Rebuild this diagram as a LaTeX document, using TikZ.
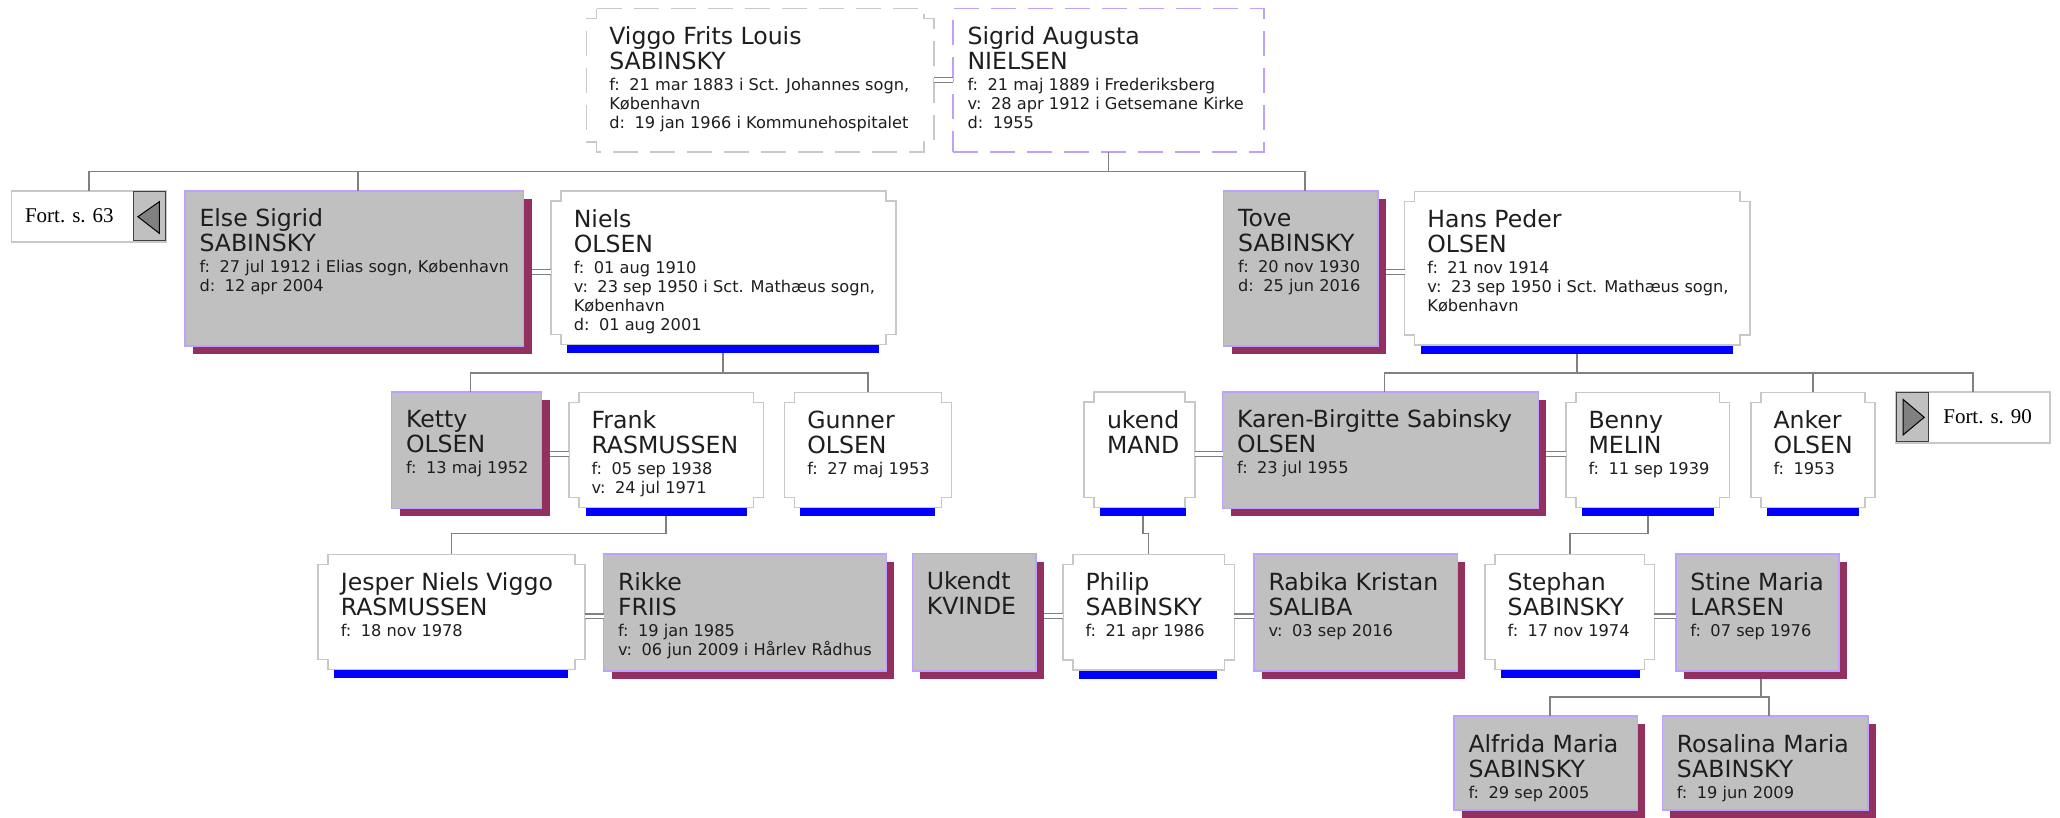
\documentclass[tikz,border=0pt]{standalone}
\usepackage{fontspec}
\newfontfamily\nmfam{DejaVu Sans}
\newfontfamily\serfam{Liberation Serif}
\usetikzlibrary{calc}
\definecolor{boxgray}{RGB}{192,192,192}
\definecolor{lav}{RGB}{190,160,255}
\definecolor{shadowc}{RGB}{146,48,96}
\definecolor{barblue}{RGB}{0,0,255}
\definecolor{linegray}{RGB}{128,128,128}
\definecolor{bordgray}{RGB}{200,200,200}
\definecolor{txtc}{RGB}{30,30,30}
\newcommand\nmf{\nmfam\fontsize{23.6pt}{24pt}\selectfont}
\newcommand\dtf{\nmfam\fontsize{16.2pt}{19pt}\selectfont}
\newcommand\nmline[1]{\hbox{\nmf #1}}
\newcommand\dtline[1]{\hbox{\dtf #1}\baselineskip=19.2pt}
\newcommand\names[2]{\nmline{#1}\nmline{#2}\baselineskip=21pt}
\newcommand\gp{\hspace{9.5pt}}
\newcommand\ptxt[1]{\vtop{\lineskiplimit=-\maxdimen\lineskip=0pt\baselineskip=25pt #1}}
\newcommand\notchdraw[5]{\draw[#1] ({#2+10},#3) -- ({#4-10},#3) -- ({#4-10},{#3+10}) -- (#4,{#3+10}) -- (#4,{#5-10}) -- ({#4-10},{#5-10}) -- ({#4-10},#5) -- ({#2+10},#5) -- ({#2+10},{#5-10}) -- (#2,{#5-10}) -- (#2,{#3+10}) -- ({#2+10},{#3+10}) -- cycle;}
% white notched box: name x1 y1 x2 y2 barx1 barx2 content
\newcommand\wbox[8]{%
  \node[anchorbox, minimum width={#4-#2}, minimum height={#5-#3}] (#1) at ({(#2+#4)/2},{(#3+#5)/2}) {};
  \notchdraw{wbord}{#2}{#3}{#4}{#5}%
  \node[barnode, minimum width={#7-#6}] (#1bar) at ({(#6+#7)/2},{#5+5}) {};
  \node[txt] (#1-t) at ({#2+22.8},{#3+36}) {\ptxt{#8}};
}
% grey box with shadow: name x1 y1 x2 y2 content
\newcommand\gbox[6]{%
  \fill[shadowc] ({#2+8},{#3+8}) rectangle ({#4+8},{#5+8});
  \node[graybox, minimum width={#4-#2}, minimum height={#5-#3}] (#1) at ({(#2+#4)/2},{(#3+#5)/2}) {};
  \node[txt] (#1-t) at ({#2+14.5},{#3+36}) {\ptxt{#6}};
}
\begin{document}
\begin{tikzpicture}[x=1pt,y=-1pt,
  txt/.style={anchor=base west, inner sep=0, outer sep=0, text=txtc},
  anchorbox/.style={inner sep=0, outer sep=0},
  graybox/.style={fill=boxgray, draw=lav, line width=1.6pt, inner sep=0, outer sep=0},
  wbord/.style={draw=bordgray, fill=white, line width=1.6pt},
  barnode/.style={fill=barblue, inner sep=0, outer sep=0, minimum height=8pt},
  conn/.style={draw=linegray, line width=1.8pt},
  dbl/.style={draw=linegray, line width=1.2pt, double=white, double distance=3.6pt},
  fortbox/.style={draw=bordgray, fill=white, line width=1.6pt, inner sep=0, outer sep=0},
  fortbtn/.style={draw=black!75, fill=boxgray, line width=1.4pt, inner sep=0, outer sep=0},
  forttri/.style={fill=linegray, draw=black, line width=1pt, line join=miter},
  forttxt/.style={anchor=base west, inner sep=0, outer sep=0, text=black, font=\serfam\fontsize{21pt}{21pt}\selectfont},
  dashbord/.style={line width=1.6pt, dash pattern=on 25pt off 12pt}]
\useasboundingbox (0,0) rectangle (2060,817);
\fill[white] (0,0) rectangle (2060,817);

% ---------- generation 0
\node[anchorbox, minimum width={934-586.5}, minimum height={152-8.5}] (viggo) at ({(586.5+934)/2},{(8.5+152)/2}) {};
\notchdraw{draw=bordgray, fill=white, dashbord}{586.5}{8.5}{934}{152}
\node[txt] (viggo-t) at (609.3,44.5) {\ptxt{\names{Viggo Frits Louis}{SABINSKY}\dtline{f:\gp 21 mar 1883 i Sct. Johannes sogn,}\dtline{København}\dtline{d:\gp 19 jan 1966 i Kommunehospitalet}}};
\node[draw=lav, fill=white, dashbord, inner sep=0, outer sep=0, minimum width={1264-953}, minimum height={152-8.5}] (sigrid) at ({(953+1264)/2},{(8.5+152)/2}) {};
\node[txt] (sigrid-t) at (967.5,44.5) {\ptxt{\names{Sigrid Augusta}{NIELSEN}\dtline{f:\gp 21 maj 1889 i Frederiksberg}\dtline{v:\gp 28 apr 1912 i Getsemane Kirke}\dtline{d:\gp 1955}}};

% ---------- generation 1
\node[fortbox, minimum width=155, minimum height=51] (fort63) at (88.9,216.2) {};
\node[fortbtn, minimum width=32, minimum height=49] (fort63b) at (149.65,216.2) {};
\filldraw[forttri] (137.9,216.7) -- (159.3,201.7) -- (159.3,233.3) -- cycle;
\node[forttxt] (fort63-t) at (25,222.7) {Fort. s. 63};

\gbox{else}{185}{190.7}{523.6}{345.7}{\names{Else Sigrid}{SABINSKY}\dtline{f:\gp 27 jul 1912 i Elias sogn, København}\dtline{d:\gp 12 apr 2004}}
\wbox{niels}{551}{191}{895.7}{344.3}{566.7}{879}{\names{Niels}{OLSEN}\dtline{f:\gp 01 aug 1910}\dtline{v:\gp 23 sep 1950 i Sct. Mathæus sogn,}\dtline{København}\dtline{d:\gp 01 aug 2001}}
\gbox{tove}{1223.6}{190.7}{1377.9}{345.7}{\names{Tove}{SABINSKY}\dtline{f:\gp 20 nov 1930}\dtline{d:\gp 25 jun 2016}}
\wbox{hans}{1404.6}{191.5}{1750}{345}{1420.7}{1733.2}{\names{Hans Peder}{OLSEN}\dtline{f:\gp 21 nov 1914}\dtline{v:\gp 23 sep 1950 i Sct. Mathæus sogn,}\dtline{København}}

% ---------- generation 2
\gbox{ketty}{391.5}{391.7}{541.5}{508.3}{\names{Ketty}{OLSEN}\dtline{f:\gp 13 maj 1952}}
\wbox{frank}{568.7}{392.3}{763.5}{507.3}{585.5}{746.6}{\names{Frank}{RASMUSSEN}\dtline{f:\gp 05 sep 1938}\dtline{v:\gp 24 jul 1971}}
\wbox{gunner}{784.5}{392.3}{951.4}{507.3}{800.2}{934.9}{\names{Gunner}{OLSEN}\dtline{f:\gp 27 maj 1953}}
\wbox{ukend}{1084.2}{392}{1195.2}{507.3}{1099.5}{1186.3}{\names{ukend}{MAND}}
\gbox{karen}{1222.6}{391.7}{1538.3}{508.3}{\names{Karen-Birgitte Sabinsky}{OLSEN}\dtline{f:\gp 23 jul 1955}}
\wbox{benny}{1565.7}{392.3}{1729.6}{507.3}{1581.7}{1713.7}{\names{Benny}{MELIN}\dtline{f:\gp 11 sep 1939}}
\wbox{anker}{1750.7}{392.3}{1875}{507.3}{1766.6}{1859.1}{\names{Anker}{OLSEN}\dtline{f:\gp 1953}}
\node[fortbox, minimum width=154.5, minimum height=51] (fort90) at (1972.75,417.2) {};
\node[fortbtn, minimum width=32, minimum height=49] (fort90b) at (1912.65,417.2) {};
\filldraw[forttri] (1924.2,417.3) -- (1903,399.3) -- (1903,435) -- cycle;
\node[forttxt] (fort90-t) at (1943.3,423.3) {Fort. s. 90};

% ---------- generation 3
\wbox{jesper}{318}{554.3}{585.1}{669.3}{334.4}{567.9}{\names{Jesper Niels Viggo}{RASMUSSEN}\dtline{f:\gp 18 nov 1978}}
\gbox{rikke}{603.5}{554}{886.3}{670.7}{\names{Rikke}{FRIIS}\dtline{f:\gp 19 jan 1985}\dtline{v:\gp 06 jun 2009 i Hårlev Rådhus}}
\gbox{ukendt}{912.3}{553.5}{1035.7}{670.7}{\names{Ukendt}{KVINDE}}
\wbox{philip}{1062.7}{554.3}{1234.3}{670}{1079}{1217.3}{\names{Philip}{SABINSKY}\dtline{f:\gp 21 apr 1986}}
\gbox{rabika}{1254}{554}{1457.3}{670.7}{\names{Rabika Kristan}{SALIBA}\dtline{v:\gp 03 sep 2016}}
\wbox{stephan}{1484.8}{554.3}{1654.4}{669.3}{1501.3}{1639.7}{\names{Stephan}{SABINSKY}\dtline{f:\gp 17 nov 1974}}
\gbox{stine}{1675.9}{554}{1838.8}{670.7}{\names{Stine Maria}{LARSEN}\dtline{f:\gp 07 sep 1976}}

% ---------- generation 4
\gbox{alfrida}{1454}{716}{1637.3}{810}{\names{Alfrida Maria}{SABINSKY}\dtline{f:\gp 29 sep 2005}}
\gbox{rosalina}{1662.3}{716}{1867.7}{810}{\names{Rosalina Maria}{SABINSKY}\dtline{f:\gp 19 jun 2009}}

% ---------- marriage lines
\draw[dbl] (viggo.east) -- (viggo.east -| sigrid.west);
\coordinate (m1) at ([shift={(8pt,-4pt)}]else.east);
\draw[dbl] (m1) -- (m1 -| niels.west);
\coordinate (m2) at ([shift={(8pt,-4pt)}]tove.east);
\draw[dbl] (m2) -- (m2 -| hans.west);
\coordinate (m3) at ([shift={(8pt,-4pt)}]ketty.east);
\draw[dbl] (m3) -- (m3 -| frank.west);
\coordinate (m4) at ([yshift=-4pt]karen.west);
\draw[dbl] (m4 -| ukend.east) -- (m4);
\coordinate (m5) at ([shift={(8pt,-4pt)}]karen.east);
\draw[dbl] (m5) -- (m5 -| benny.west);
\coordinate (m6) at ([yshift=-4pt]rikke.west);
\draw[dbl] (m6 -| jesper.east) -- (m6);
\coordinate (m7) at ([shift={(8pt,-4pt)}]ukendt.east);
\draw[dbl] (m7) -- (m7 -| philip.west);
\coordinate (m8) at ([yshift=-4pt]rabika.west);
\draw[dbl] (m8 -| philip.east) -- (m8);
\coordinate (m9) at ([yshift=-4pt]stine.west);
\draw[dbl] (m9 -| stephan.east) -- (m9);

% ---------- descent lines
\coordinate (bus0) at (0,171.5);
\coordinate (bus1) at (0,373);
\coordinate (bus3) at (0,533.5);
\coordinate (bus4) at (0,696.7);
\coordinate (elsetop) at ([xshift=4pt]else.north);
\coordinate (tovetop) at ([xshift=4pt]tove.north);
\coordinate (kettytop) at ([xshift=4pt]ketty.north);
\coordinate (karentop) at ([xshift=4pt]karen.north);
\coordinate (stinebot) at ([shift={(4pt,-8pt)}]stine.south);
\coordinate (alfridatop) at ([xshift=4pt]alfrida.north);
\coordinate (rosalinatop) at ([xshift=4pt]rosalina.north);

\draw[conn] (sigrid.south) -- (sigrid.south |- bus0);
\draw[conn] (fort63.north) -- (fort63.north |- bus0) -- (bus0 -| tovetop) -- (tovetop);
\draw[conn] (elsetop) -- (elsetop |- bus0);

\draw[conn] (nielsbar.south) -- (nielsbar.south |- bus1);
\draw[conn] (kettytop) -- (kettytop |- bus1) -- (bus1 -| gunner.north) -- (gunner.north);

\draw[conn] (hansbar.south) -- (hansbar.south |- bus1);
\draw[conn] (karentop) -- (karentop |- bus1) -- (bus1 -| fort90.north) -- (fort90.north);
\draw[conn] (anker.north) -- (anker.north |- bus1);

\draw[conn] (frankbar.south) -- (frankbar.south |- bus3) -| (jesper.north);
\draw[conn] (ukendbar.south) -- (ukendbar.south |- bus3) -| (philip.north);
\draw[conn] (bennybar.south) -- (bennybar.south |- bus3) -| (stephan.north);

\draw[conn] (stinebot) -- (stinebot |- bus4);
\draw[conn] (alfridatop) -- (alfridatop |- bus4) -- (bus4 -| rosalinatop) -- (rosalinatop);
\end{tikzpicture}
\end{document}
